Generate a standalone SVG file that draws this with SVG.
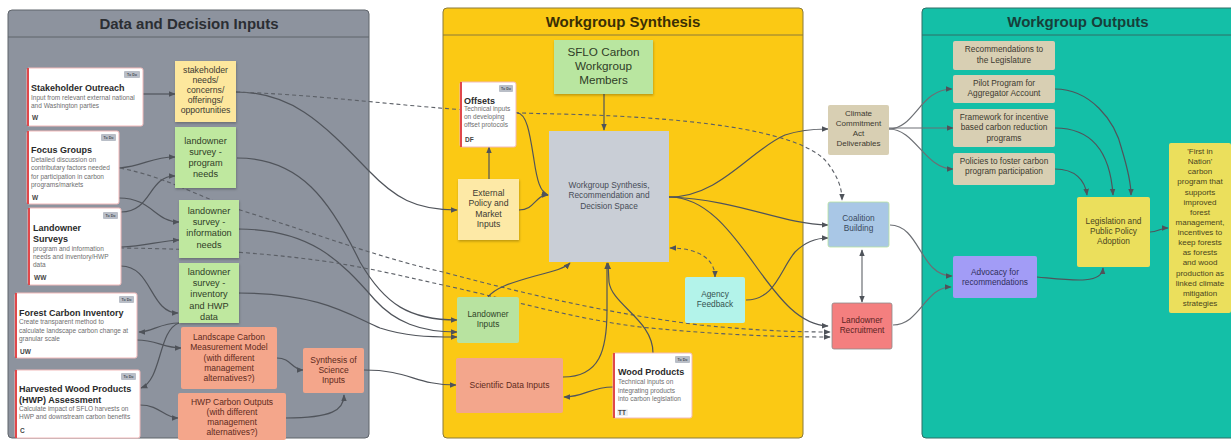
<svg xmlns="http://www.w3.org/2000/svg" width="1231" height="440" viewBox="0 0 1231 440">
<style>
text{font-family:"Liberation Sans",Arial,sans-serif}
.pt{font-size:15px;font-weight:bold;text-anchor:middle;fill:#2b2e33}
.s{font-size:8.7px;text-anchor:middle;fill:#3c3a33}
.g{font-size:9.2px;text-anchor:middle;fill:#2f3d27}
.r{font-size:8.5px;text-anchor:middle;fill:#5e2a1c}
.b{font-size:8.3px;text-anchor:middle;fill:#3d3a30}
.fn{font-size:8px;text-anchor:middle;fill:#4a4520}
.card{fill:#ffffff;stroke:#f2b9b9;stroke-width:1}
.bar{fill:#e0484b}
.tag{fill:#b9bec7}
.tagt{font-size:3.6px;text-anchor:middle;fill:#4a4f58;font-weight:bold}
.ct{font-size:9px;font-weight:bold;fill:#2a2a2a}
.cd{font-size:6.5px;fill:#6e6e6e}
.own{fill:#eceef1}
.ot{font-size:6.5px;font-weight:bold;fill:#444}
.c{fill:none;stroke:#50545b;stroke-width:1.2}
.cw{fill:none;stroke:#6c6f74;stroke-width:1.2}
.d{fill:none;stroke:#5b5f66;stroke-width:1.1;stroke-dasharray:4 3}
.sh{filter:url(#shadow)}
</style>
<defs>
<marker id="ah" viewBox="0 0 10 10" refX="9" refY="5" markerWidth="7" markerHeight="7" markerUnits="userSpaceOnUse" orient="auto-start-reverse">
<path d="M0,1 L10,5 L0,9 z" fill="#4f535a"/>
</marker>
<filter id="shadow" x="-10%" y="-10%" width="130%" height="130%">
<feDropShadow dx="0.5" dy="1.5" stdDeviation="1" flood-color="#000" flood-opacity="0.25"/>
</filter>
</defs>
<rect x="0" y="0" width="1231" height="440" fill="#ffffff"/>

<!-- panels -->
<g id="panel-inputs">
<rect x="8" y="10" width="361" height="428" rx="4" fill="#8d939e" stroke="#5f646b" stroke-width="1"/>
<line x1="8" y1="37" x2="369" y2="37" stroke="#5f646b" stroke-width="1"/>
<text class="pt" x="189" y="29">Data and Decision Inputs</text>
</g>
<g id="panel-synthesis">
<rect x="443" y="8" width="360" height="430" rx="4" fill="#fbc914" stroke="#8a7a3a" stroke-width="1"/>
<line x1="443" y1="35" x2="803" y2="35" stroke="#8a7a3a" stroke-width="1"/>
<text class="pt" x="623" y="27" style="fill:#3a2f05">Workgroup Synthesis</text>
</g>
<g id="panel-outputs">
<rect x="922" y="8" width="315" height="430" rx="4" fill="#14bfa7" stroke="#2f6f66" stroke-width="1"/>
<line x1="922" y1="35" x2="1231" y2="35" stroke="#2f6f66" stroke-width="1"/>
<text class="pt" x="1078" y="27" style="fill:#173f3a">Workgroup Outputs</text>
</g>

<!-- connectors -->
<g id="connectors">
<path class="c" d="M143,94 L175,94" marker-end="url(#ah)"/>
<path class="c" d="M119,168 C145,166 150,157 175,157" marker-end="url(#ah)"/>
<path class="c" d="M119,198 C152,198 155,222 179,222" marker-end="url(#ah)"/>
<path class="c" d="M121,212 C152,212 148,176 175,176" marker-end="url(#ah)"/>
<path class="c" d="M121,247 C145,246 160,241 179,240" marker-end="url(#ah)"/>
<path class="c" d="M121,266 C152,266 150,313 178,313" marker-end="url(#ah)"/>
<path class="c" d="M179,323 C160,323 152,332 139,332" marker-end="url(#ah)"/>
<path class="c" d="M179,323 C158,330 162,380 141,388" marker-end="url(#ah)"/>
<path class="c" d="M137,340 C156,340 164,348 181,348" marker-end="url(#ah)"/>
<path class="c" d="M140,405 C160,405 164,418 178,418" marker-end="url(#ah)"/>
<path class="c" d="M277,358 C291,358 292,370 303,370" marker-end="url(#ah)"/>
<path class="c" d="M286,418 C332,418 344,410 344,395" marker-end="url(#ah)"/>
<path class="c" d="M364,370 C410,370 415,385 456,385" marker-end="url(#ah)"/>

<path class="c" d="M236,92 C290,92 320,120 368,170 C395,198 415,210 457,210" marker-end="url(#ah)"/>
<path class="c" d="M237,158 C300,158 330,200 360,262 C385,305 410,320 457,320" marker-end="url(#ah)"/>
<path class="c" d="M238,229 C310,229 340,260 375,300 C395,322 420,332 457,332" marker-end="url(#ah)"/>
<path class="c" d="M238,293 C320,293 350,315 380,328 C405,336 425,337 457,337" marker-end="url(#ah)"/>

<path class="d" d="M236,92 C350,96 430,112 560,114 C720,118 800,135 825,160 C835,172 842,185 842,200" marker-end="url(#ah)"/>
<path class="d" d="M120,168 C170,178 200,198 240,210 C320,235 380,258 443,272 C540,298 620,315 700,325 C760,331 800,332 830,332" marker-end="url(#ah)"/>
<path class="d" d="M120,248 C200,249 260,252 330,262 C380,270 410,278 443,285 C520,302 570,318 640,327 C720,335 780,337 830,337" marker-end="url(#ah)"/>

<path class="c" d="M604,94 L604,130" marker-end="url(#ah)"/>
<path class="c" d="M519,210 C535,210 535,195 548,195" marker-end="url(#ah)"/>
<path class="c" d="M517,113 C527,113 530,135 534,160 C537,180 540,192 548,195" marker-end="url(#ah)"/>
<path class="c" d="M489,179 L489,147" marker-end="url(#ah)"/>
<path class="c" d="M488,297 C495,288 510,283 535,276 C555,271 565,268 570,263" marker-end="url(#ah)"/>
<path class="c" d="M563,377 C600,377 607,350 607,310 L607,263" marker-end="url(#ah)"/>
<path class="c" d="M653,353 C653,320 612,305 609,282 L608,263" marker-end="url(#ah)"/>
<path class="c" d="M613,387 C590,387 585,397 564,397" marker-end="url(#ah)"/>
<path class="d" d="M670,248 C700,248 715,260 715,277" marker-start="url(#ah)" marker-end="url(#ah)"/>
<path class="c" d="M669,197 C720,197 750,150 785,135 C800,130 812,129 828,129" marker-end="url(#ah)"/>
<path class="c" d="M669,197 C740,200 780,224 828,225" marker-end="url(#ah)"/>
<path class="c" d="M669,197 C705,197 730,230 755,265 C780,300 800,325 828,326" marker-end="url(#ah)"/>
<path class="c" d="M746,300 C775,300 780,270 795,252 C805,242 815,238 828,238" marker-end="url(#ah)"/>
<path class="cw" d="M862,250 L862,302" marker-start="url(#ah)" marker-end="url(#ah)"/>
<path class="cw" d="M889,129 C915,129 920,89 952,89" marker-end="url(#ah)"/>
<path class="cw" d="M889,128 L953,128" marker-end="url(#ah)"/>
<path class="cw" d="M889,129 C915,129 925,169 953,169" marker-end="url(#ah)"/>
<path class="cw" d="M890,225 C920,225 920,276 952,276" marker-end="url(#ah)"/>
<path class="cw" d="M893,325 C920,325 925,287 951,287" marker-end="url(#ah)"/>
<path class="c" d="M1055,89 C1090,89 1115,120 1122,150 C1128,170 1131,185 1131,195" marker-end="url(#ah)"/>
<path class="c" d="M1055,128 C1090,128 1110,150 1113,195" marker-end="url(#ah)"/>
<path class="c" d="M1055,169 C1075,169 1085,180 1087,195" marker-end="url(#ah)"/>
<path class="c" d="M1037,277 C1070,280 1102,285 1103,268" marker-end="url(#ah)"/>
<path class="c" d="M1150,232 C1158,232 1160,228 1168,228" marker-end="url(#ah)"/>
</g>

<!-- left cards -->
<g id="stakeholder-outreach">
<rect class="card" x="27" y="68" width="116" height="58" rx="2"/>
<rect class="bar" x="27" y="68" width="2" height="58"/>
<rect class="tag" x="124" y="71" width="16" height="7" rx="1"/>
<text class="tagt" x="132" y="75.8">To Do</text>
<text class="ct" x="31" y="91">Stakeholder Outreach</text>
<text class="cd" x="31" y="100">Input from relevant external national</text>
<text class="cd" x="31" y="108">and Washington parties</text>
<text class="ot" x="32" y="120">W</text>
</g>
<g id="focus-groups">
<rect class="card" x="27" y="131" width="92" height="73" rx="2"/>
<rect class="bar" x="27" y="131" width="2" height="73"/>
<rect class="tag" x="101" y="134" width="15" height="7" rx="1"/>
<text class="tagt" x="108.5" y="138.8">To Do</text>
<text class="ct" x="31" y="153">Focus Groups</text>
<text class="cd" x="31" y="162">Detailed discussion on</text>
<text class="cd" x="31" y="170">contributary factors needed</text>
<text class="cd" x="31" y="179">for participation in carbon</text>
<text class="cd" x="31" y="187">programs/markets</text>
<text class="ot" x="32" y="200">W</text>
</g>
<g id="landowner-surveys">
<rect class="card" x="28" y="208" width="93" height="77" rx="2"/>
<rect class="bar" x="28" y="208" width="2" height="77"/>
<rect class="tag" x="103" y="212" width="15" height="7" rx="1"/>
<text class="tagt" x="110.5" y="216.8">To Do</text>
<text class="ct" x="33" y="231">Landowner</text>
<text class="ct" x="33" y="242">Surveys</text>
<text class="cd" x="33" y="251">program and information</text>
<text class="cd" x="33" y="259">needs and inventory/HWP</text>
<text class="cd" x="33" y="267">data</text>
<text class="ot" x="34" y="280">WW</text>
</g>
<g id="forest-carbon-inventory">
<rect class="card" x="15" y="293" width="122" height="65" rx="2"/>
<rect class="bar" x="15" y="293" width="2" height="65"/>
<rect class="tag" x="119" y="296" width="15" height="7" rx="1"/>
<text class="tagt" x="126.5" y="300.8">To Do</text>
<text class="ct" x="19" y="316">Forest Carbon Inventory</text>
<text class="cd" x="19" y="324">Create transparent method to</text>
<text class="cd" x="19" y="333">calculate landscape carbon change at</text>
<text class="cd" x="19" y="341">granular scale</text>
<text class="ot" x="20" y="354">UW</text>
</g>
<g id="hwp-assessment">
<rect class="card" x="15" y="370" width="125" height="68" rx="2"/>
<rect class="bar" x="15" y="370" width="2" height="68"/>
<rect class="tag" x="121" y="373" width="15" height="7" rx="1"/>
<text class="tagt" x="128.5" y="377.8">To Do</text>
<text class="ct" x="19" y="392">Harvested Wood Products</text>
<text class="ct" x="19" y="403">(HWP) Assessment</text>
<text class="cd" x="19" y="411">Calculate impact of SFLO harvests on</text>
<text class="cd" x="19" y="419">HWP and downstream carbon benefits</text>
<text class="ot" x="20" y="433">C</text>
</g>

<!-- left stickies -->
<g id="stakeholder-needs">
<rect class="sh" x="175" y="61" width="61" height="61" fill="#fde79d"/>
<text class="s" x="205.5" y="73">stakeholder</text>
<text class="s" x="205.5" y="83">needs/</text>
<text class="s" x="205.5" y="93">concerns/</text>
<text class="s" x="205.5" y="103">offerings/</text>
<text class="s" x="205.5" y="113">opportunities</text>
</g>
<g id="survey-program-needs">
<rect class="sh" x="175" y="127" width="61" height="61" fill="#bfe89f"/>
<text class="g" x="205.5" y="144">landowner</text>
<text class="g" x="205.5" y="155">survey -</text>
<text class="g" x="205.5" y="166">program</text>
<text class="g" x="205.5" y="177">needs</text>
</g>
<g id="survey-information-needs">
<rect class="sh" x="179" y="200" width="60" height="58" fill="#bfe89f"/>
<text class="g" x="209" y="214">landowner</text>
<text class="g" x="209" y="225">survey -</text>
<text class="g" x="209" y="236">information</text>
<text class="g" x="209" y="248">needs</text>
</g>
<g id="survey-inventory-hwp">
<rect class="sh" x="179" y="263" width="60" height="60" fill="#bfe89f"/>
<text class="g" x="209" y="275">landowner</text>
<text class="g" x="209" y="286">survey -</text>
<text class="g" x="209" y="297">inventory</text>
<text class="g" x="209" y="309">and HWP</text>
<text class="g" x="209" y="320">data</text>
</g>
<g id="landscape-carbon-model">
<rect x="181" y="327" width="96" height="62" rx="2" fill="#f4a68b"/>
<text class="r" x="229" y="340">Landscape Carbon</text>
<text class="r" x="229" y="350">Measurement Model</text>
<text class="r" x="229" y="361">(with different</text>
<text class="r" x="229" y="371">management</text>
<text class="r" x="229" y="381">alternatives?)</text>
</g>
<g id="hwp-carbon-outputs">
<rect x="178" y="393" width="108" height="47" rx="2" fill="#f4a68b"/>
<text class="r" x="232" y="405">HWP Carbon Outputs</text>
<text class="r" x="232" y="415">(with different</text>
<text class="r" x="232" y="425">management</text>
<text class="r" x="232" y="435">alternatives?)</text>
</g>
<g id="synthesis-science">
<rect x="303" y="348" width="61" height="45" rx="2" fill="#f4a68b"/>
<text class="r" x="333.5" y="363">Synthesis of</text>
<text class="r" x="333.5" y="373">Science</text>
<text class="r" x="333.5" y="383">Inputs</text>
</g>

<!-- middle -->
<g id="sflo-members">
<rect class="sh" x="554" y="40" width="99" height="54" fill="#b9e6a0"/>
<text class="g" x="603.5" y="56" style="font-size:11.7px">SFLO Carbon</text>
<text class="g" x="603.5" y="70" style="font-size:11.7px">Workgroup</text>
<text class="g" x="603.5" y="84" style="font-size:11.7px">Members</text>
</g>
<g id="offsets">
<rect class="card" x="460" y="82" width="56" height="65" rx="2"/>
<rect class="bar" x="460" y="82" width="2" height="65"/>
<rect class="tag" x="499" y="85" width="14" height="7" rx="1"/>
<text class="tagt" x="506" y="89.8">To Do</text>
<text class="ct" x="464" y="104">Offsets</text>
<text class="cd" x="464" y="111">Technical inputs</text>
<text class="cd" x="464" y="119">on developing</text>
<text class="cd" x="464" y="127">offset protocols</text>
<text class="ot" x="465" y="142">DF</text>
</g>
<g id="workgroup-synthesis">
<rect x="549" y="131" width="120" height="131" fill="#c9ced6"/>
<text class="b" x="609" y="188" style="fill:#474c57">Workgroup Synthesis,</text>
<text class="b" x="609" y="198" style="fill:#474c57">Recommendation and</text>
<text class="b" x="609" y="209" style="fill:#474c57">Decision Space</text>
</g>
<g id="external-policy">
<rect class="sh" x="458" y="179" width="61" height="61" fill="#fde9a6"/>
<text class="s" x="488.5" y="196">External</text>
<text class="s" x="488.5" y="206">Policy and</text>
<text class="s" x="488.5" y="217">Market</text>
<text class="s" x="488.5" y="227">Inputs</text>
</g>
<g id="agency-feedback">
<rect x="685" y="277" width="60" height="46" rx="2" fill="#b3f3ea"/>
<text class="b" x="715" y="297" style="fill:#34524f">Agency</text>
<text class="b" x="715" y="307" style="fill:#34524f">Feedback</text>
</g>
<g id="landowner-inputs">
<rect x="457" y="297" width="62" height="46" rx="2" fill="#b8e3a0"/>
<text class="b" x="488" y="317" style="fill:#2f4428">Landowner</text>
<text class="b" x="488" y="327" style="fill:#2f4428">Inputs</text>
</g>
<g id="scientific-data">
<rect x="456" y="358" width="107" height="55" rx="2" fill="#f3a68c"/>
<text class="r" x="509.5" y="388">Scientific Data Inputs</text>
</g>
<g id="wood-products">
<rect class="card" x="613" y="353" width="79" height="65" rx="2"/>
<rect class="bar" x="613" y="353" width="2" height="65"/>
<rect class="tag" x="675" y="356" width="15" height="7" rx="1"/>
<text class="tagt" x="682.5" y="360.8">To Do</text>
<text class="ct" x="618" y="375">Wood Products</text>
<text class="cd" x="618" y="384">Technical inputs on</text>
<text class="cd" x="618" y="393">integrating products</text>
<text class="cd" x="618" y="401">into carbon legislation</text>
<rect class="own" x="617" y="409" width="11" height="7" rx="1"/>
<text class="ot" x="618" y="415">TT</text>
</g>

<!-- between middle and right -->
<g id="climate-commitment">
<rect x="828" y="105" width="61" height="50" rx="2" fill="#d8cfb3"/>
<text class="b" x="858.5" y="116" style="font-size:8px">Climate</text>
<text class="b" x="858.5" y="126" style="font-size:8px">Commitment</text>
<text class="b" x="858.5" y="136" style="font-size:8px">Act</text>
<text class="b" x="858.5" y="146" style="font-size:8px">Deliverables</text>
</g>
<g id="coalition-building">
<rect x="828" y="202" width="61" height="45" rx="2" fill="#a9c7e6" stroke="#b7e2a0" stroke-width="0.8"/>
<text class="b" x="858.5" y="221" style="fill:#3a4a5e">Coalition</text>
<text class="b" x="858.5" y="231" style="fill:#3a4a5e">Building</text>
</g>
<g id="landowner-recruitment">
<rect x="832" y="303" width="60" height="46" rx="2" fill="#f47f7f" stroke="#8a8a8a" stroke-width="0.8"/>
<text class="b" x="862" y="323" style="fill:#5a2323">Landowner</text>
<text class="b" x="862" y="333" style="fill:#5a2323">Recruitment</text>
</g>

<!-- right -->
<g id="recommendations-legislature">
<rect x="953" y="41" width="102" height="29" rx="2" fill="#d8cfb3"/>
<text class="b" x="1004" y="52">Recommendations to</text>
<text class="b" x="1004" y="63">the Legislature</text>
</g>
<g id="pilot-program">
<rect x="953" y="75" width="102" height="28" rx="2" fill="#d8cfb3"/>
<text class="b" x="1004" y="86">Pilot Program for</text>
<text class="b" x="1004" y="96">Aggregator Account</text>
</g>
<g id="framework-incentive">
<rect x="953" y="109" width="102" height="38" rx="2" fill="#d8cfb3"/>
<text class="b" x="1004" y="120">Framework for incentive</text>
<text class="b" x="1004" y="130">based carbon reduction</text>
<text class="b" x="1004" y="141">programs</text>
</g>
<g id="policies-foster">
<rect x="953" y="153" width="102" height="32" rx="2" fill="#d8cfb3"/>
<text class="b" x="1004" y="164">Policies to foster carbon</text>
<text class="b" x="1004" y="174">program participation</text>
</g>
<g id="legislation-adoption">
<rect x="1077" y="197" width="73" height="70" rx="2" fill="#ebdf5c"/>
<text class="b" x="1113.5" y="224" style="fill:#4a4520">Legislation and</text>
<text class="b" x="1113.5" y="234" style="fill:#4a4520">Public Policy</text>
<text class="b" x="1113.5" y="244" style="fill:#4a4520">Adoption</text>
</g>
<g id="advocacy">
<rect x="953" y="256" width="84" height="42" rx="2" fill="#a29cf6"/>
<text class="b" x="995" y="275" style="fill:#2f2f5a">Advocacy for</text>
<text class="b" x="995" y="285" style="fill:#2f2f5a">recommendations</text>
</g>
<g id="first-in-nation">
<rect x="1169" y="143" width="62" height="170" rx="2" fill="#ebdf5c"/>
<text class="fn" x="1200" y="154">'First in</text>
<text class="fn" x="1200" y="164">Nation'</text>
<text class="fn" x="1200" y="174.3">carbon</text>
<text class="fn" x="1200" y="184.4">program that</text>
<text class="fn" x="1200" y="194.5">supports</text>
<text class="fn" x="1200" y="204.7">improved</text>
<text class="fn" x="1200" y="214.8">forest</text>
<text class="fn" x="1200" y="224.9">management,</text>
<text class="fn" x="1200" y="235">incentives to</text>
<text class="fn" x="1200" y="245.2">keep forests</text>
<text class="fn" x="1200" y="255.3">as forests</text>
<text class="fn" x="1200" y="265.4">and wood</text>
<text class="fn" x="1200" y="275.6">production as</text>
<text class="fn" x="1200" y="285.7">linked climate</text>
<text class="fn" x="1200" y="295.8">mitigation</text>
<text class="fn" x="1200" y="306">strategies</text>
</g>
</svg>
